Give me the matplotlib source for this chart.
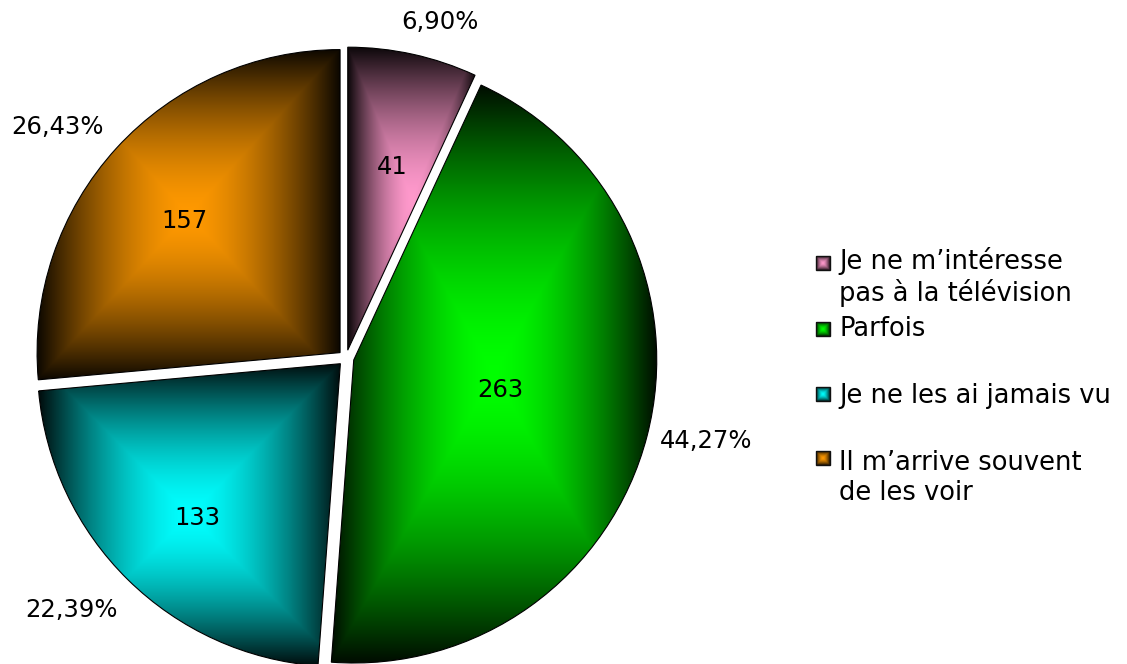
import numpy as np
import matplotlib
matplotlib.use("Agg")
import matplotlib.pyplot as plt
from matplotlib.colors import to_rgb
from matplotlib.patches import Rectangle

# Survey answers: how often the respondents watch the programmes
categories = [
    "Je ne m’intéresse\npas à la télévision",
    "Parfois",
    "Je ne les ai jamais vu",
    "Il m’arrive souvent\nde les voir",
]
counts = [41, 263, 133, 157]
percent_labels = ["6,90%", "44,27%", "22,39%", "26,43%"]
colors = ["#FF99CC", "#00FF00", "#00FFFF", "#FF9900"]

# Layout (figure pixels, origin bottom-left)
W, H = 1127, 664
CENTER = (346, 306)
RADIUS = 303
EXPLODE = 8            # pixels each slice is pulled out
value_radius = [0.65, 0.52, 0.72, 0.70]
value_angle_shift = [-1.1, 2.8, 1.6, 2.2]
percent_radius = [1.15, 1.22, 1.23, 1.22]
percent_angle_shift = [-3.2, 1.6, -2.9, 3.7]
legend_square_x = 816
legend_text_x = 839
legend_square_y = [401, 335, 270, 206]
legend_baseline_y = [363, 328, 261, 164]   # baseline of each entry's last line
FONT = "DejaVu Sans"
LABEL_SIZE = 17.5
LEGEND_SIZE = 18.5


def pyramid_fill(base, n=301, depth=0.95, power=1.6):
    """Rectangular 'from centre' gradient: base colour in the middle, dark rim."""
    u = np.linspace(-1.0, 1.0, n)
    U, V = np.meshgrid(u, u)
    t = np.maximum(np.abs(U), np.abs(V))
    shade = 1.0 - depth * t ** power
    return np.clip(np.asarray(to_rgb(base))[None, None, :] * shade[..., None], 0, 1)


fig = plt.figure(figsize=(W / 100, H / 100), dpi=100)
ax = fig.add_axes([0, 0, 1, 1])

wedges, _ = ax.pie(
    counts,
    colors=colors,
    startangle=90,
    counterclock=False,
    center=CENTER,
    radius=RADIUS,
    explode=[EXPLODE] * len(counts),
    wedgeprops=dict(edgecolor="black", linewidth=0.8),
)

for w, base in zip(wedges, colors):
    ext = w.get_path().get_extents()
    img = ax.imshow(
        pyramid_fill(base),
        extent=(ext.x0, ext.x1, ext.y0, ext.y1),
        origin="lower",
        interpolation="bilinear",
        zorder=2,
    )
    img.set_clip_path(w)
    # keep the slice outline above its shading
    w.set_facecolor("none")
    w.set_zorder(3)

for w, v, pct, rv, av, rp, ap in zip(wedges, counts, percent_labels, value_radius,
                                       value_angle_shift, percent_radius, percent_angle_shift):
    mid = (w.theta1 + w.theta2) / 2
    a = np.deg2rad(mid + av)
    ax.text(CENTER[0] + rv * RADIUS * np.cos(a), CENTER[1] + rv * RADIUS * np.sin(a), str(v),
            ha="center", va="center", fontsize=LABEL_SIZE, family=FONT, color="black", zorder=10)
    a = np.deg2rad(mid + ap)
    ax.text(CENTER[0] + rp * RADIUS * np.cos(a), CENTER[1] + rp * RADIUS * np.sin(a), pct,
            ha="center", va="center", fontsize=LABEL_SIZE, family=FONT, color="black", zorder=10)

# Legend drawn by hand to keep the uneven spacing of the entries
sq = 14
for label, base, ys, yb in zip(categories, colors, legend_square_y, legend_baseline_y):
    ax.imshow(pyramid_fill(base, n=41, depth=0.85, power=1.5),
              extent=(legend_square_x, legend_square_x + sq, ys - sq / 2, ys + sq / 2),
              origin="lower", interpolation="bilinear", zorder=5)
    ax.add_patch(Rectangle((legend_square_x, ys - sq / 2), sq, sq, fill=False,
                           edgecolor="#101010", linewidth=1.0, zorder=6))
    ax.text(legend_text_x, yb, label, ha="left", va="baseline", fontsize=LEGEND_SIZE,
            family=FONT, color="black", linespacing=1.2, zorder=6)

ax.set_xlim(0, W)
ax.set_ylim(0, H)
ax.set_aspect("equal")
ax.axis("off")

fig.savefig("out.png", dpi=100, facecolor="white")
